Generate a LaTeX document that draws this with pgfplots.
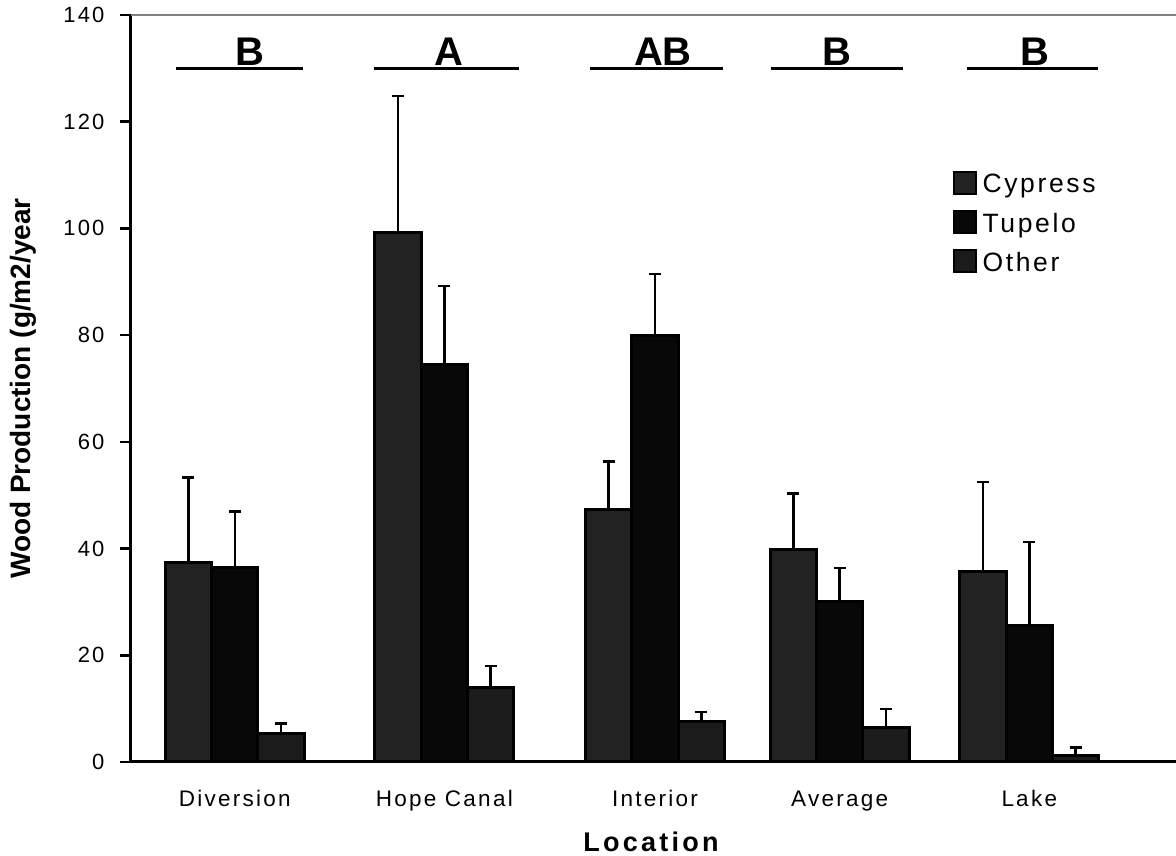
\documentclass[border=0pt]{standalone}
\usepackage{fontspec}
\setmainfont{Liberation Sans}
\newfontfamily\spaced[LetterSpace=10]{Liberation Sans}
\newfontfamily\spacedL[LetterSpace=12]{Liberation Sans}
\usepackage{pgfplots}
\usepackage{pgfplotstable}
\pgfplotsset{compat=1.18}
\definecolor{cyp}{HTML}{222222}
\definecolor{tup}{HTML}{080808}
\definecolor{oth}{HTML}{1B1B1B}
\definecolor{topline}{HTML}{808080}

% category positions: Diversion, Hope Canal, Interior, Average, Lake
\pgfplotstableread{
x y e
0.02 37.3 16.0
1.07 99.3 25.5
2.125 47.3 9.0
3.05 39.9 10.4
4.0 35.7 16.8
}\cypress
\pgfplotstableread{
x y e
0.02 36.5 10.4
1.07 74.5 14.7
2.125 80.0 11.5
3.05 30.0 6.4
4.0 25.5 15.7
}\tupelo
\pgfplotstableread{
x y e
0.02 5.3 1.9
1.07 14.0 4.0
2.125 7.5 1.9
3.05 6.5 3.4
4.0 1.2 1.5
}\other

\pgfplotsset{
  myerr/.style={error bars/.cd, y dir=plus, y explicit, error mark=-,
    error bar style={line width=2.5pt, draw=black},
    error mark options={draw=black, line width=2.5pt, mark size=6pt, rotate=90}},
}

\begin{document}
\begin{tikzpicture}
\path[use as bounding box] (-131pt,-94pt) rectangle (1045pt,762pt);
\begin{axis}[
  at={(0pt,0pt)}, anchor=south west,
  scale only axis, width=1045pt, height=747pt,
  xmin=-0.5, xmax=4.735, ymin=0, ymax=140,
  axis x line*=bottom, axis y line*=left,
  axis line style={line width=3pt, black},
  ybar=0pt, bar width=0.232,
  ytick={0,20,...,140},
  xtick={0.02,1.07,2.125,3.05,4.0},
  xticklabels={Diversion,Hope Canal,Interior,Average,Lake},
  major x tick style={draw=none},
  extra x ticks={-0.5,0.54,1.6,2.57,3.53},
  extra x tick labels={},
  extra x tick style={major tick length=9pt, tick style={line width=2.5pt, black, draw=black}},
  tick align=outside,
  major tick length=11pt,
  tick style={line width=2.5pt, black},
  /pgf/number format/assume math mode=true,
  yticklabel style={font=\spaced\fontsize{22}{26}\selectfont, xshift=-12pt},
  xticklabel style={font=\spaced\fontsize{22.5}{26}\selectfont, yshift=-14pt},
  ylabel={Wood Production (g/m2/year},
  ylabel style={font=\bfseries\fontsize{28}{30}\selectfont, at={(axis description cs:-0.103,0.5)}, anchor=center},
  xlabel={Location},
  xlabel style={font=\spacedL\bfseries\fontsize{27}{30}\selectfont, at={(axis description cs:0.4976,-0.107)}, anchor=center},
  legend style={at={(axis description cs:0.786,0.791)}, anchor=north west, draw=none, fill=none,
    font=\spaced\fontsize{26.5}{30}\selectfont, row sep=15pt, inner sep=0pt,
    nodes={inner xsep=6pt, inner ysep=0pt}},
  legend cell align=left,
  legend image code/.code={\draw[#1, draw=black, line width=2pt] (0pt,-10pt) rectangle (22pt,12pt);},
  clip=false,
]
\addplot[fill=cyp, draw=black, line width=3pt, myerr] table[x=x, y=y, y error=e] {\cypress};
\addplot[fill=tup, draw=black, line width=3pt, myerr] table[x=x, y=y, y error=e] {\tupelo};
\addplot[fill=oth, draw=black, line width=3pt, myerr] table[x=x, y=y, y error=e] {\other};
\legend{Cypress,Tupelo,Other}

\draw[topline, line width=2.5pt] (rel axis cs:0,1) -- (rel axis cs:1,1);

\draw[black, line width=3pt] (axis cs:-0.275,129.9) -- (axis cs:0.362,129.9);
\draw[black, line width=3pt] (axis cs:0.717,129.9) -- (axis cs:1.444,129.9);
\draw[black, line width=3pt] (axis cs:1.800,129.9) -- (axis cs:2.466,129.9);
\draw[black, line width=3pt] (axis cs:2.706,129.9) -- (axis cs:3.368,129.9);
\draw[black, line width=3pt] (axis cs:3.688,129.9) -- (axis cs:4.345,129.9);
\node[font=\bfseries\fontsize{40}{40}\selectfont, anchor=base, inner sep=0pt] at (axis cs:0.096,130.6) {B};
\node[font=\bfseries\fontsize{40}{40}\selectfont, anchor=base, inner sep=0pt] at (axis cs:1.093,130.6) {A};
\node[font=\bfseries\fontsize{40}{40}\selectfont, anchor=base, inner sep=0pt] at (axis cs:2.165,130.6) {AB};
\node[font=\bfseries\fontsize{40}{40}\selectfont, anchor=base, inner sep=0pt] at (axis cs:3.037,130.6) {B};
\node[font=\bfseries\fontsize{40}{40}\selectfont, anchor=base, inner sep=0pt] at (axis cs:4.029,130.6) {B};
\end{axis}
\end{tikzpicture}
\end{document}
